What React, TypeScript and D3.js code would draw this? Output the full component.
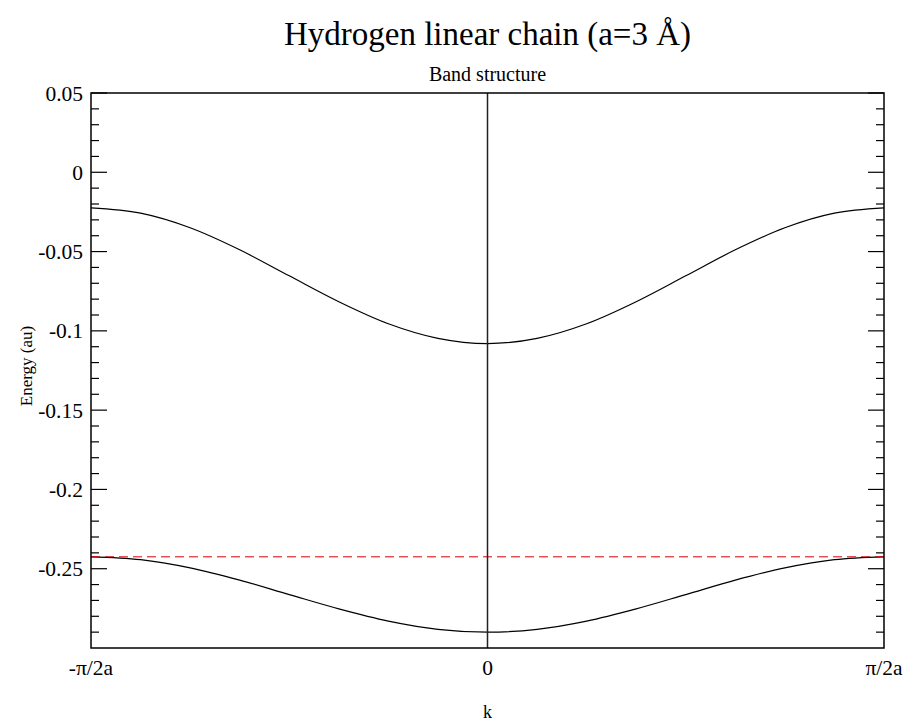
import * as d3 from "d3";

// k in units of pi/2a
const K_POINTS = [-1, -0.875, -0.75, -0.625, -0.5, -0.375, -0.25, -0.125, 0, 0.125, 0.25, 0.375, 0.5, 0.625, 0.75, 0.875, 1];
const UPPER_BAND = [-0.0225, -0.0258, -0.035, -0.0489, -0.0653, -0.0816, -0.0955, -0.1047, -0.108, -0.1047, -0.0955, -0.0816, -0.0653, -0.0489, -0.035, -0.0258, -0.0225];
const LOWER_BAND = [-0.2425, -0.2443, -0.2495, -0.2572, -0.2663, -0.2753, -0.283, -0.2882, -0.29, -0.2882, -0.283, -0.2753, -0.2663, -0.2572, -0.2495, -0.2443, -0.2425];
const FERMI = -0.2425;

const X_TICKS = [-1, 0, 1];
const X_TICK_LABELS = ["-π/2a", "0", "π/2a"];
const Y_TICKS = [0.05, 0, -0.05, -0.1, -0.15, -0.2, -0.25];
const Y_TICK_LABELS = ["0.05", "0", "-0.05", "-0.1", "-0.15", "-0.2", "-0.25"];

const W = 909;
const H = 726;
const M = { left: 91, right: 884, top: 93, bottom: 648 };
const FONT = "'Liberation Serif', 'Times New Roman', serif";

export default function App() {
  const x = d3.scaleLinear().domain([-1, 1]).range([M.left, M.right]);
  const y = d3.scaleLinear().domain([-0.3, 0.05]).range([M.bottom, M.top]);
  const line = d3
    .line<number>()
    .x((_, i) => x(K_POINTS[i]))
    .y((d) => y(d))
    .curve(d3.curveMonotoneX);
  const minor = d3.range(-29, 5).map((v) => v / 100).filter((v) => !Y_TICKS.some((t) => Math.abs(t - v) < 1e-6));
  const cx = (M.left + M.right) / 2;

  return (
    <svg width={W} height={H} style={{ position: "absolute", left: 0, top: 0, background: "#fff" }} fontFamily={FONT}>
      <text x={cx} y={45} textAnchor="middle" fontSize={33} fill="#000">Hydrogen linear chain (a=3 Å)</text>
      <text x={cx} y={81} textAnchor="middle" fontSize={20} fill="#000">Band structure</text>

      {/* bands */}
      <path d={line(UPPER_BAND) ?? ""} fill="none" stroke="#000" strokeWidth={1.2} />
      <path d={line(LOWER_BAND) ?? ""} fill="none" stroke="#000" strokeWidth={1.2} />
      <line x1={M.left} x2={M.right} y1={y(FERMI)} y2={y(FERMI)} stroke="#d80000" strokeWidth={1} strokeDasharray="9,5" />
      <line x1={x(0)} x2={x(0)} y1={M.top} y2={M.bottom} stroke="#222" strokeWidth={1.5} />

      {/* y ticks, both sides */}
      {Y_TICKS.map((t) => (
        <g key={"M" + t}>
          <line x1={M.left} x2={M.left + 16} y1={y(t)} y2={y(t)} stroke="#000" strokeWidth={1.2} />
          <line x1={M.right} x2={M.right - 16} y1={y(t)} y2={y(t)} stroke="#000" strokeWidth={1.2} />
        </g>
      ))}
      {minor.map((t) => (
        <g key={"m" + t}>
          <line x1={M.left} x2={M.left + 8} y1={y(t)} y2={y(t)} stroke="#000" strokeWidth={1.2} />
          <line x1={M.right} x2={M.right - 8} y1={y(t)} y2={y(t)} stroke="#000" strokeWidth={1.2} />
        </g>
      ))}
      {Y_TICKS.map((t, i) => (
        <text key={"l" + t} x={M.left - 8} y={y(t)} dy="0.35em" textAnchor="end" fontSize={21.5} fill="#000">{Y_TICK_LABELS[i]}</text>
      ))}
      {X_TICKS.map((t, i) => (
        <text key={"x" + t} x={x(t)} y={M.bottom + 27} textAnchor="middle" fontSize={21.5} fill="#000">{X_TICK_LABELS[i]}</text>
      ))}

      <rect x={M.left} y={M.top} width={M.right - M.left} height={M.bottom - M.top} fill="none" stroke="#000" strokeWidth={1.5} />

      <text transform={`translate(32,366) rotate(-90)`} textAnchor="middle" fontSize={17} fill="#000">Energy (au)</text>
      <text x={cx} y={718} textAnchor="middle" fontSize={18} fill="#000">k</text>
    </svg>
  );
}
